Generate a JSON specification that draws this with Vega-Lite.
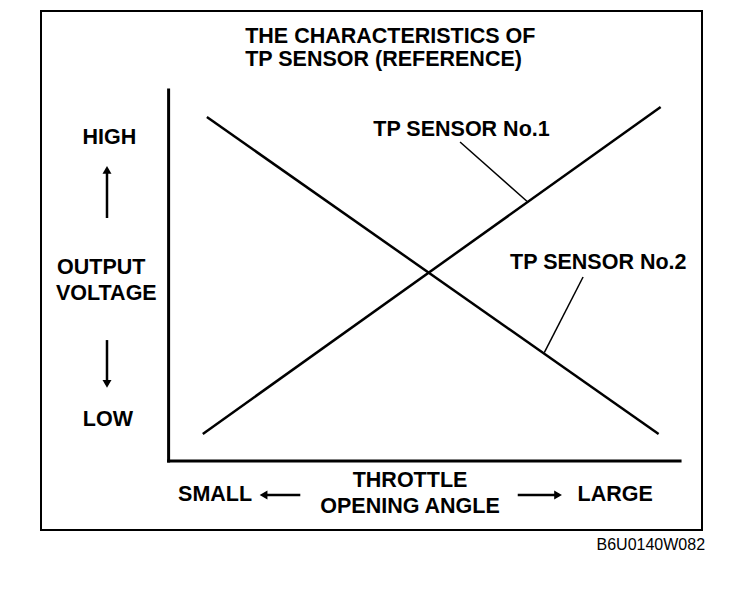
{
  "$schema": "https://vega.github.io/schema/vega-lite/v6.json",
  "autosize": {"type": "none"},
  "width": 661,
  "height": 519,
  "padding": {"left": 41, "top": 11, "right": 50, "bottom": 60},
  "background": "white",
  "config": {
    "view": {"stroke": "black", "strokeWidth": 2},
    "text": {"font": "Liberation Sans", "fill": "black"}
  },
  "layer": [
    {
      "data": {"values": [
        {"part": "y-axis", "x": 0, "y": 0},
        {"part": "y-axis", "x": 0, "y": 100},
        {"part": "x-axis", "x": 0, "y": 0},
        {"part": "x-axis", "x": 100.2, "y": 0}
      ]},
      "mark": {"type": "line", "stroke": "black", "strokeWidth": 3, "strokeCap": "square"},
      "encoding": {
        "x": {"field": "x", "type": "quantitative", "scale": {"domain": [-25, 104.5], "nice": false, "zero": false}, "axis": null},
        "y": {"field": "y", "type": "quantitative", "scale": {"domain": [-18.6, 121.3], "nice": false, "zero": false}, "axis": null},
        "detail": {"field": "part"}
      }
    },
    {
      "data": {"values": [
        {"sensor": "TP SENSOR No.1", "angle": 6.7, "voltage": 7.3},
        {"sensor": "TP SENSOR No.1", "angle": 96.4, "voltage": 95.4},
        {"sensor": "TP SENSOR No.2", "angle": 7.5, "voltage": 92.7},
        {"sensor": "TP SENSOR No.2", "angle": 96.0, "voltage": 7.3}
      ]},
      "mark": {"type": "line", "stroke": "black", "strokeWidth": 2.5},
      "encoding": {
        "x": {"field": "angle", "type": "quantitative"},
        "y": {"field": "voltage", "type": "quantitative"},
        "detail": {"field": "sensor"}
      }
    },
    {
      "data": {"values": [
        {"leader": "No.1", "x": 57.1, "y": 86.0},
        {"leader": "No.1", "x": 70.2, "y": 70.0},
        {"leader": "No.2", "x": 81.2, "y": 49.6},
        {"leader": "No.2", "x": 73.6, "y": 29.2}
      ]},
      "mark": {"type": "line", "stroke": "black", "strokeWidth": 1.5},
      "encoding": {
        "x": {"field": "x", "type": "quantitative"},
        "y": {"field": "y", "type": "quantitative"},
        "detail": {"field": "leader"}
      }
    },
    {
      "data": {"values": [
        {"arrow": "up", "x": -12.07, "y": 65.5},
        {"arrow": "up", "x": -12.07, "y": 78.5},
        {"arrow": "down", "x": -12.07, "y": 32.6},
        {"arrow": "down", "x": -12.07, "y": 20.5},
        {"arrow": "left", "x": 25.8, "y": -9.16},
        {"arrow": "left", "x": 18.5, "y": -9.16},
        {"arrow": "right", "x": 68.4, "y": -9.16},
        {"arrow": "right", "x": 76.5, "y": -9.16}
      ]},
      "mark": {"type": "line", "stroke": "black", "strokeWidth": 2.5},
      "encoding": {
        "x": {"field": "x", "type": "quantitative"},
        "y": {"field": "y", "type": "quantitative"},
        "detail": {"field": "arrow"}
      }
    },
    {
      "data": {"values": [
        {"head": "triangle-up", "x": -12.07, "y": 78.5},
        {"head": "triangle-down", "x": -12.07, "y": 20.8},
        {"head": "triangle-left", "x": 18.6, "y": -9.16},
        {"head": "triangle-right", "x": 76.3, "y": -9.16}
      ]},
      "mark": {"type": "point", "filled": true, "fill": "black", "stroke": null, "size": 80, "opacity": 1},
      "encoding": {
        "x": {"field": "x", "type": "quantitative"},
        "y": {"field": "y", "type": "quantitative"},
        "shape": {"field": "head", "type": "nominal", "scale": null, "legend": null}
      }
    },
    {
      "data": {"values": [
        {"label": "THE CHARACTERISTICS OF", "x": 15.0, "y": 114.3},
        {"label": "TP SENSOR (REFERENCE)", "x": 15.0, "y": 108.0},
        {"label": "TP SENSOR No.1", "x": 40.1, "y": 89.2},
        {"label": "TP SENSOR No.2", "x": 66.9, "y": 53.4}
      ]},
      "mark": {"type": "text", "align": "left", "baseline": "middle", "fontSize": 21.5, "fontWeight": "bold"},
      "encoding": {
        "x": {"field": "x", "type": "quantitative"},
        "y": {"field": "y", "type": "quantitative"},
        "text": {"field": "label"}
      }
    },
    {
      "data": {"values": [
        {"label": "HIGH", "x": -11.6, "y": 87.1},
        {"label": "OUTPUT", "x": -13.2, "y": 52.0},
        {"label": "VOLTAGE", "x": -12.2, "y": 45.0},
        {"label": "LOW", "x": -11.9, "y": 11.1},
        {"label": "SMALL", "x": 9.1, "y": -9.2},
        {"label": "THROTTLE", "x": 47.3, "y": -5.5},
        {"label": "OPENING ANGLE", "x": 47.3, "y": -12.4},
        {"label": "LARGE", "x": 87.5, "y": -9.2}
      ]},
      "mark": {"type": "text", "align": "center", "baseline": "middle", "fontSize": 21.5, "fontWeight": "bold"},
      "encoding": {
        "x": {"field": "x", "type": "quantitative"},
        "y": {"field": "y", "type": "quantitative"},
        "text": {"field": "label"}
      }
    },
    {
      "data": {"values": [
        {"label": "B6U0140W082", "x": 105.1, "y": -22.6}
      ]},
      "mark": {"type": "text", "align": "right", "baseline": "middle", "fontSize": 16},
      "encoding": {
        "x": {"field": "x", "type": "quantitative"},
        "y": {"field": "y", "type": "quantitative"},
        "text": {"field": "label"}
      }
    }
  ]
}
